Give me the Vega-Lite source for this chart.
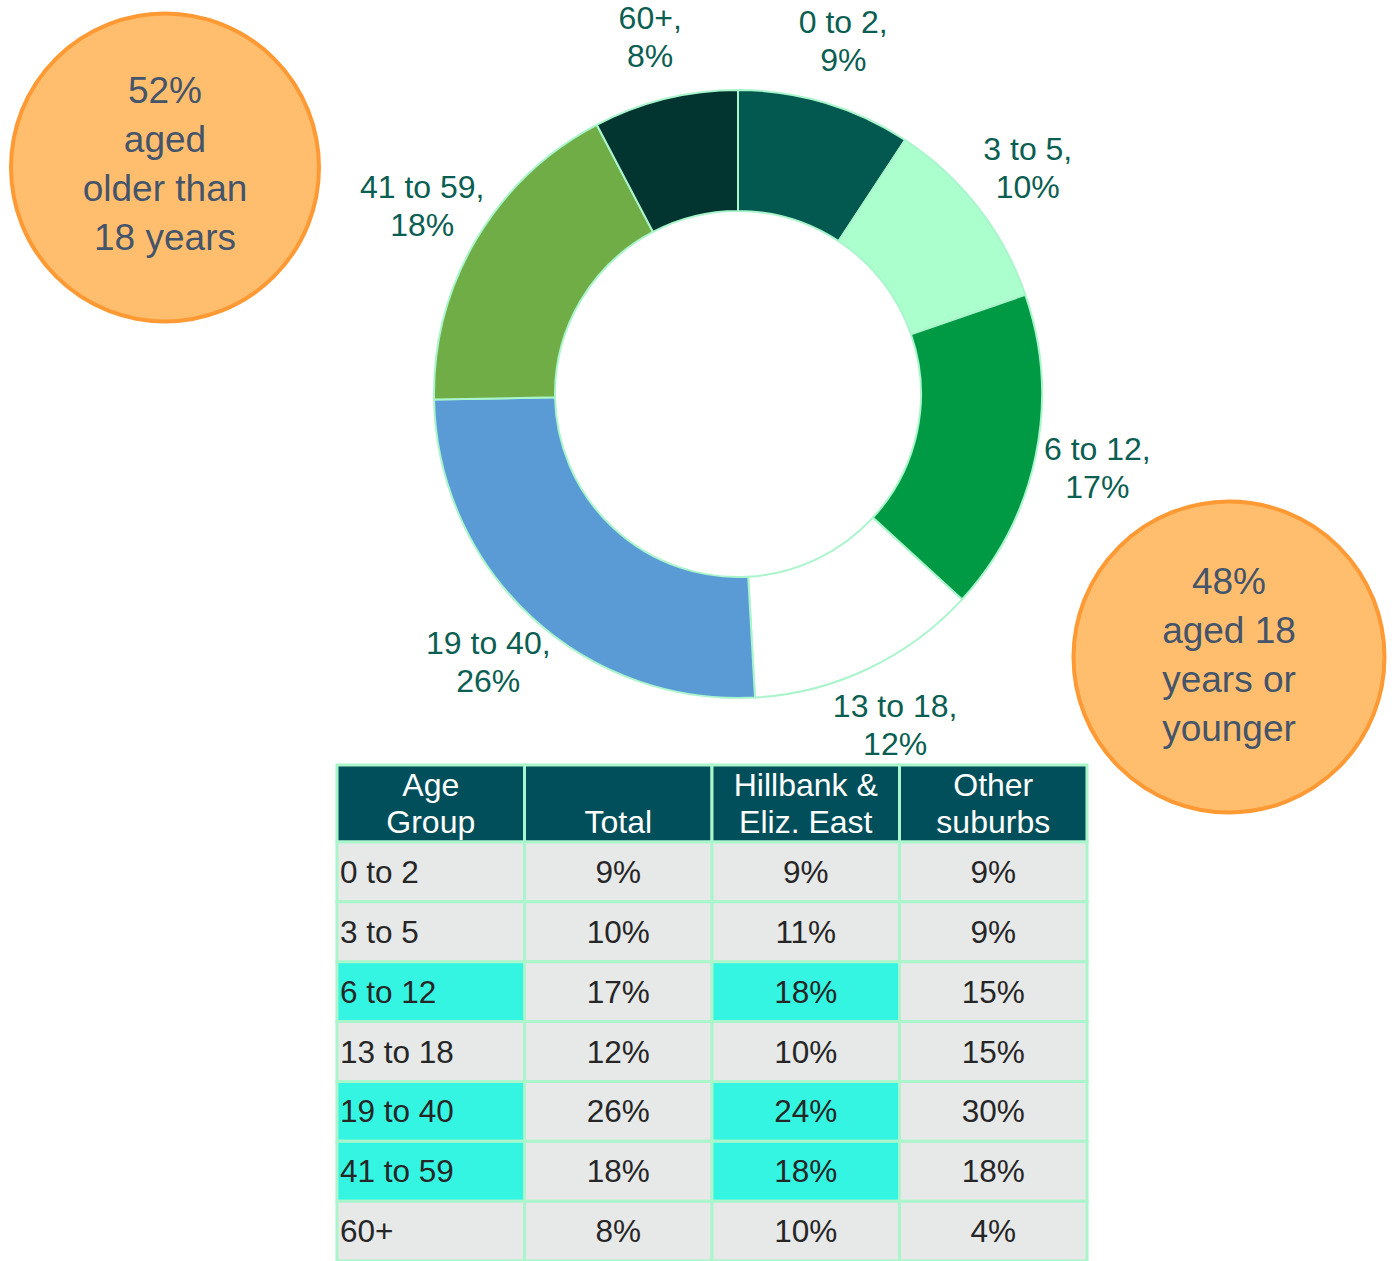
{
  "$schema": "https://vega.github.io/schema/vega-lite/v6.json",
  "padding": 0,
  "background": "white",
  "spacing": 0,
  "bounds": "flush",
  "config": {"view": {"stroke": null}, "font": "Liberation Sans"},
  "datasets": {
    "ages": [
      {"idx": 1, "age": "0 to 2", "label": "0 to 2,\n9%", "share": 9.26, "total": 0.09, "hillbank": 0.09, "other": 0.09, "hl": false},
      {"idx": 2, "age": "3 to 5", "label": "3 to 5,\n10%", "share": 10.45, "total": 0.10, "hillbank": 0.11, "other": 0.09, "hl": false},
      {"idx": 3, "age": "6 to 12", "label": "6 to 12,\n17%", "share": 17.1, "total": 0.17, "hillbank": 0.18, "other": 0.15, "hl": true},
      {"idx": 4, "age": "13 to 18", "label": "13 to 18,\n12%", "share": 12.3, "total": 0.12, "hillbank": 0.10, "other": 0.15, "hl": false},
      {"idx": 5, "age": "19 to 40", "label": "19 to 40,\n26%", "share": 25.6, "total": 0.26, "hillbank": 0.24, "other": 0.30, "hl": true},
      {"idx": 6, "age": "41 to 59", "label": "41 to 59,\n18%", "share": 17.6, "total": 0.18, "hillbank": 0.18, "other": 0.18, "hl": true},
      {"idx": 7, "age": "60+", "label": "60+,\n8%", "share": 7.69, "total": 0.08, "hillbank": 0.10, "other": 0.04, "hl": false}
    ]
  },
  "hconcat": [
    {
      "vconcat": [
        {"width": 1, "height": 765, "data": {"values": []}, "mark": {"type": "point"}, "encoding": {}},
        {
          "hconcat": [
            {"width": 337, "height": 1, "data": {"values": []}, "mark": {"type": "point"}, "encoding": {}},
            {
              "vconcat": [
                {
                  "width": 750,
                  "height": 77,
                  "data": {"values": [
                    {"col": "age", "label": "Age\nGroup"},
                    {"col": "total", "label": "Total"},
                    {"col": "hillbank", "label": "Hillbank &\nEliz. East"},
                    {"col": "other", "label": "Other\nsuburbs"}
                  ]},
                  "encoding": {"x": {"field": "col", "type": "nominal", "axis": null, "scale": {"domain": ["age", "total", "hillbank", "other"], "paddingInner": 0, "paddingOuter": 0}}},
                  "layer": [
                    {"mark": {"type": "rect", "color": "#014f5a", "stroke": "#aaf5cc", "strokeWidth": 3}},
                    {
                      "transform": [{"filter": "datum.col !== 'total'"}],
                      "mark": {"type": "text", "baseline": "middle", "dy": -18, "fontSize": 32, "lineHeight": 37, "lineBreak": "\n", "color": "#ffffff"},
                      "encoding": {"text": {"field": "label"}}
                    },
                    {
                      "transform": [{"filter": "datum.col === 'total'"}],
                      "mark": {"type": "text", "baseline": "middle", "dy": 19, "fontSize": 32, "color": "#ffffff"},
                      "encoding": {"text": {"field": "label"}}
                    }
                  ]
                },
                {
                  "width": 750,
                  "height": 419,
                  "data": {"name": "ages"},
                  "encoding": {
                    "y": {"field": "age", "type": "nominal", "sort": null, "axis": null, "scale": {"paddingInner": 0, "paddingOuter": 0}}
                  },
                  "layer": [
                    {
                      "mark": {"type": "rect", "stroke": "#aaf5cc", "strokeWidth": 3},
                      "encoding": {
                        "x": {"datum": "age", "type": "nominal", "axis": null, "scale": {"domain": ["age", "total", "hillbank", "other"], "paddingInner": 0, "paddingOuter": 0}},
                        "color": {"condition": {"test": "datum.hl", "value": "#33f5e2"}, "value": "#e7e8e8"}
                      }
                    },
                    {
                      "transform": [{"fold": ["total", "hillbank", "other"], "as": ["col", "val"]}],
                      "mark": {"type": "rect", "stroke": "#aaf5cc", "strokeWidth": 3},
                      "encoding": {
                        "x": {"field": "col", "type": "nominal", "axis": null},
                        "color": {"condition": {"test": "datum.hl && datum.col === 'hillbank'", "value": "#33f5e2"}, "value": "#e7e8e8"}
                      }
                    },
                    {
                      "mark": {"type": "text", "align": "left", "dx": 3, "dy": 2, "fontSize": 31.5, "color": "#262626", "baseline": "middle"},
                      "encoding": {
                        "x": {"datum": "age", "type": "nominal", "bandPosition": 0},
                        "text": {"field": "age"}
                      }
                    },
                    {
                      "transform": [{"fold": ["total", "hillbank", "other"], "as": ["col", "val"]}],
                      "mark": {"type": "text", "align": "center", "dy": 2, "fontSize": 31.5, "color": "#262626", "baseline": "middle"},
                      "encoding": {
                        "x": {"field": "col", "type": "nominal"},
                        "text": {"field": "val", "type": "quantitative", "format": ".0%"}
                      }
                    }
                  ]
                }
              ],
              "spacing": 0,
              "bounds": "flush"
            }
          ],
          "spacing": 0,
          "bounds": "flush"
        }
      ],
      "spacing": 0,
      "bounds": "flush"
    },
    {
      "vconcat": [
        {"width": 1, "height": 500, "data": {"values": []}, "mark": {"type": "point"}, "encoding": {}},
        {
          "hconcat": [
            {"width": 1146, "height": 1, "data": {"values": []}, "mark": {"type": "point"}, "encoding": {}},
            {
              "width": 166,
              "height": 314,
              "data": {"values": [{"group": "younger", "text": "48%\naged 18\nyears or\nyounger"}]},
              "layer": [
                {"mark": {"type": "point", "shape": "circle", "size": 96721, "filled": true, "fill": "#ffbe6e", "stroke": "#ff9933", "strokeWidth": 4, "opacity": 1}, "encoding": {}},
                {"mark": {"type": "text", "fontSize": 37, "lineHeight": 49, "lineBreak": "\n", "dy": -74, "color": "#44546a", "align": "center", "baseline": "middle"}, "encoding": {"text": {"field": "text"}}}
              ]
            }
          ],
          "spacing": 0,
          "bounds": "flush"
        }
      ],
      "spacing": 0,
      "bounds": "flush"
    },
    {
      "width": 330,
      "height": 335,
      "data": {"values": [{"group": "older", "text": "52%\naged\nolder than\n18 years"}]},
      "layer": [
        {"mark": {"type": "point", "shape": "circle", "size": 94864, "filled": true, "fill": "#ffbe6e", "stroke": "#ff9933", "strokeWidth": 4, "opacity": 1}, "encoding": {}},
        {"mark": {"type": "text", "fontSize": 37, "lineHeight": 49, "lineBreak": "\n", "dy": -76, "color": "#44546a", "align": "center", "baseline": "middle"}, "encoding": {"text": {"field": "text"}}}
      ]
    },
    {
      "width": 816,
      "height": 788,
      "data": {"name": "ages"},
      "encoding": {
        "theta": {"field": "share", "type": "quantitative", "stack": true},
        "order": {"field": "idx", "type": "quantitative"}
      },
      "layer": [
        {
          "mark": {"type": "arc", "innerRadius": 183, "outerRadius": 304, "stroke": "#aaf5cc", "strokeWidth": 2},
          "encoding": {
            "color": {"field": "age", "type": "nominal", "legend": null,
              "scale": {"domain": ["0 to 2", "3 to 5", "6 to 12", "13 to 18", "19 to 40", "41 to 59", "60+"],
                        "range": ["#03594f", "#aaffcc", "#009944", "#ffffff", "#5b9bd5", "#70ad47", "#033530"]}}
          }
        },
        {
          "mark": {"type": "text", "radius": 367, "fontSize": 32, "lineHeight": 38, "lineBreak": "\n", "dy": -19, "color": "#0b5e52", "align": "center", "baseline": "middle"},
          "encoding": {"text": {"field": "label"}, "detail": {"field": "age"}}
        }
      ]
    }
  ]
}
